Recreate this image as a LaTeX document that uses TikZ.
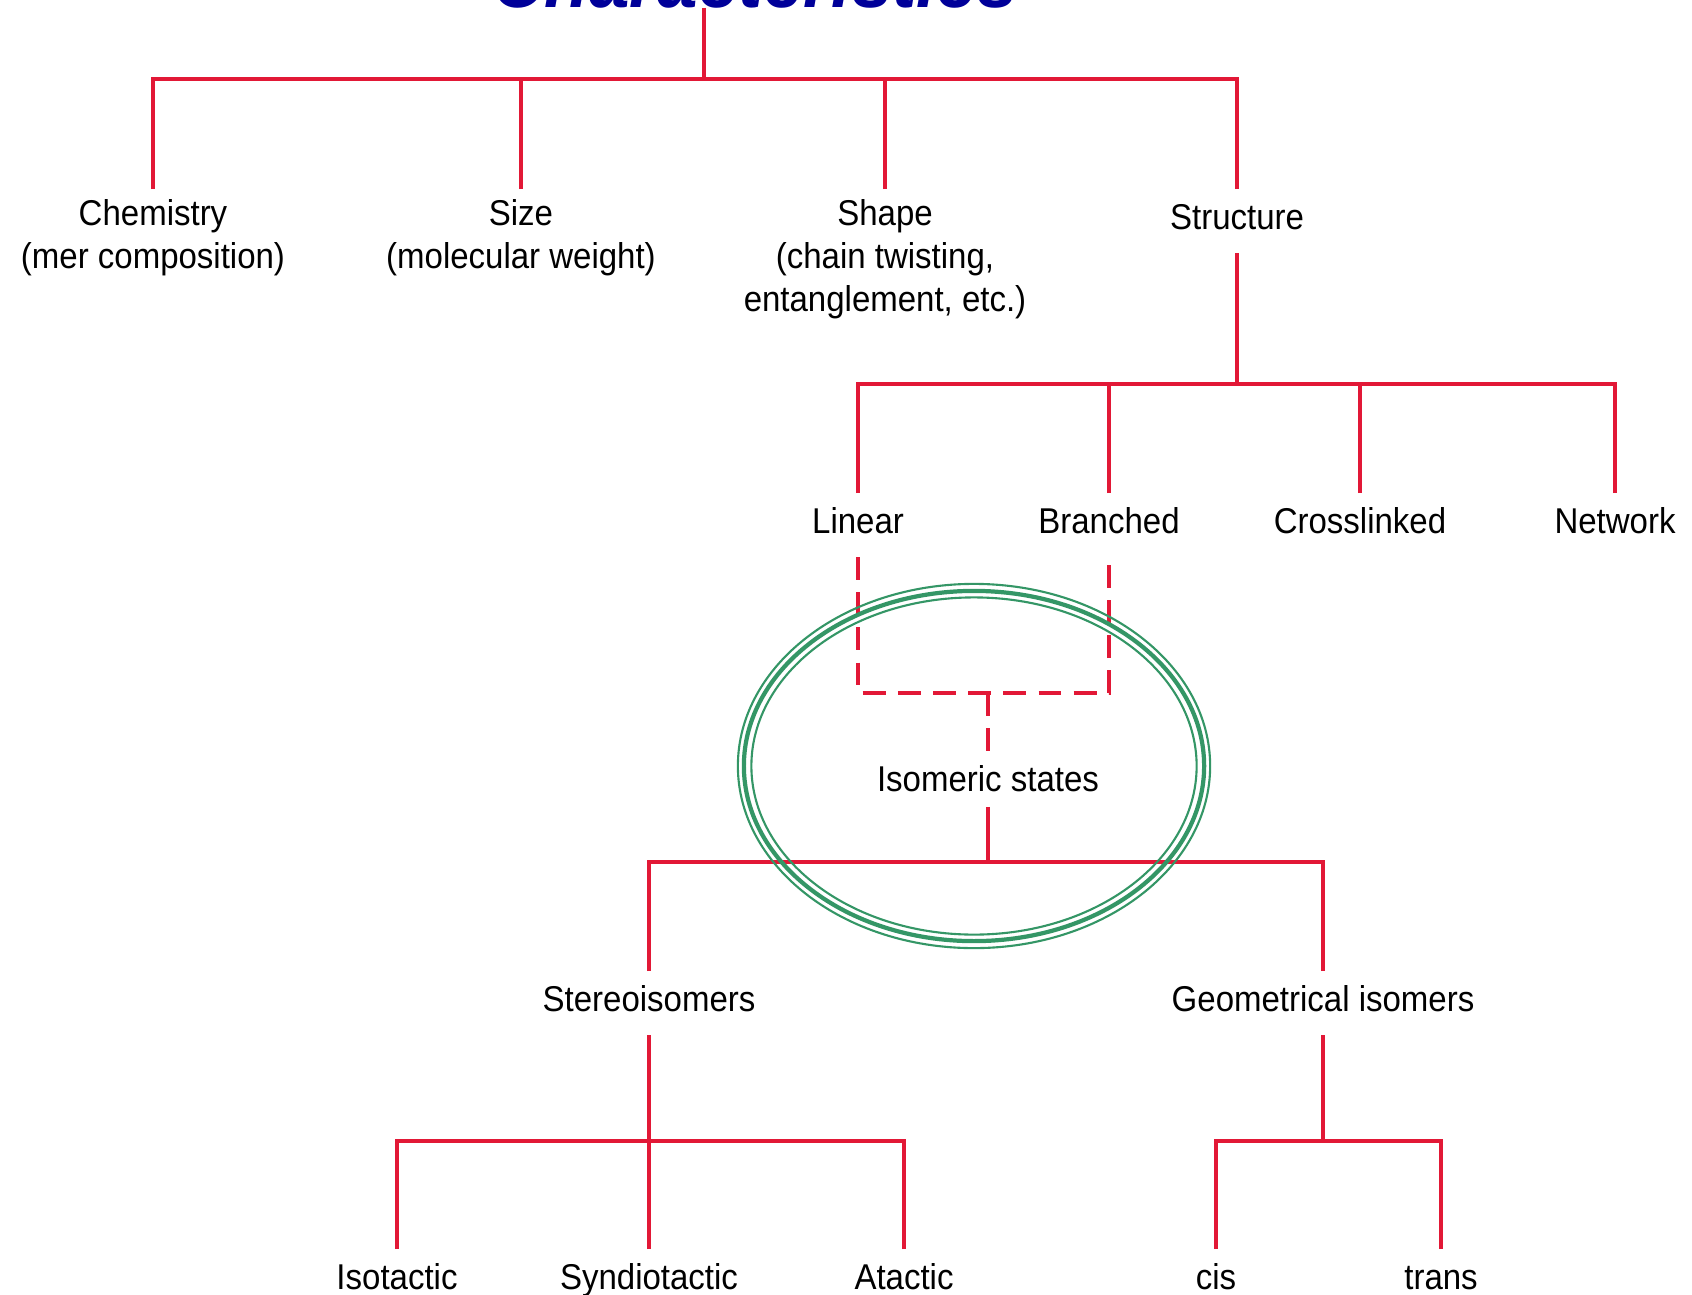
\documentclass[tikz,border=0pt]{standalone}
\usepackage{fontspec}
\setmainfont{Liberation Sans}[FakeStretch=0.92]
\usepackage{xcolor}
\usepackage{tikz}
\definecolor{treered}{RGB}{226,24,54}
\definecolor{ringgreen}{RGB}{52,150,102}
\definecolor{titleblue}{RGB}{0,0,153}
\tikzset{
  item/.style={font=\fontsize{10.2}{12.2}\selectfont, align=center, inner sep=2.8pt, anchor=north,
    execute at begin node=\strut, execute at end node=\strut},
  branch/.style={draw=treered, line width=1.4pt},
  hint/.style={branch, dash pattern=on 6.5pt off 3.5pt},
  ring/.style={draw=ringgreen},
}

\begin{document}
\begin{tikzpicture}[x=0.01cm, y=-0.01cm]
  \useasboundingbox (0,0) rectangle (1692,1294);
  \node[font=\fontsize{22.5}{27}\selectfont\bfseries\itshape, text=titleblue, anchor=base, inner sep=0pt] (char) at (755,8) {Characteristics};
  \coordinate (j0) at (704,79);
  \node[item] (chem) at (153,189) {Chemistry\\(mer composition)};
  \node[item] (size) at (521,189) {Size\\(molecular weight)};
  \node[item] (shape) at (885,189) {Shape\\(chain twisting,\\entanglement, etc.)};
  \node[item] (struct) at (1237,189) {Structure};
  \coordinate (j1) at (1237,384);
  \node[item] (lin) at (858,493) {Linear};
  \node[item] (bra) at (1109,493) {Branched};
  \node[item] (cross) at (1360,493) {Crosslinked};
  \node[item] (net) at (1615,493) {Network};
  \coordinate (j2) at (988,693);
  \node[item, inner ysep=0.5pt] (iso) at (988,759) {Isomeric states};
  \coordinate (j3) at (988,862);
  \node[item] (stereo) at (649,971) {Stereoisomers};
  \node[item] (geom) at (1323,971) {Geometrical isomers};
  \coordinate (j4) at (649,1141);
  \coordinate (j5) at (1323,1141);
  \node[item] (isot) at (397,1249) {Isotactic};
  \node[item] (syn) at (649,1249) {Syndiotactic};
  \node[item] (ata) at (904,1249) {Atactic};
  \node[item] (cis) at (1216,1249) {cis};
  \node[item] (trans) at (1441,1249) {trans};

  \draw[branch] (char.base -| j0) -- (j0);
  \foreach \n in {chem,size,shape,struct} \draw[branch] (\n.north) |- (j0);
  \draw[branch] (struct) -- (j1);
  \foreach \n in {lin,bra,cross,net} \draw[branch] (\n.north) |- (j1);
  \draw[hint] (lin.south) |- (j2) -| (bra.south);
  \draw[hint] (j2) -- (iso.north);
  \draw[branch] (iso) -- (j3);
  \foreach \n in {stereo,geom} \draw[branch] (\n.north) |- (j3);
  \draw[branch] (stereo) -- (j4);
  \foreach \n in {isot,syn,ata} \draw[branch] (\n.north) |- (j4);
  \draw[branch] (geom) -- (j5);
  \foreach \n in {cis,trans} \draw[branch] (\n.north) |- (j5);

  \coordinate (rc) at (974,766);
  \draw[ring, line width=0.6pt] (rc) ellipse [x radius=2.36cm, y radius=1.82cm];
  \draw[ring, line width=1.2pt] (rc) ellipse [x radius=2.30cm, y radius=1.75cm];
  \draw[ring, line width=0.6pt] (rc) ellipse [x radius=2.225cm, y radius=1.685cm];
\end{tikzpicture}
\end{document}
